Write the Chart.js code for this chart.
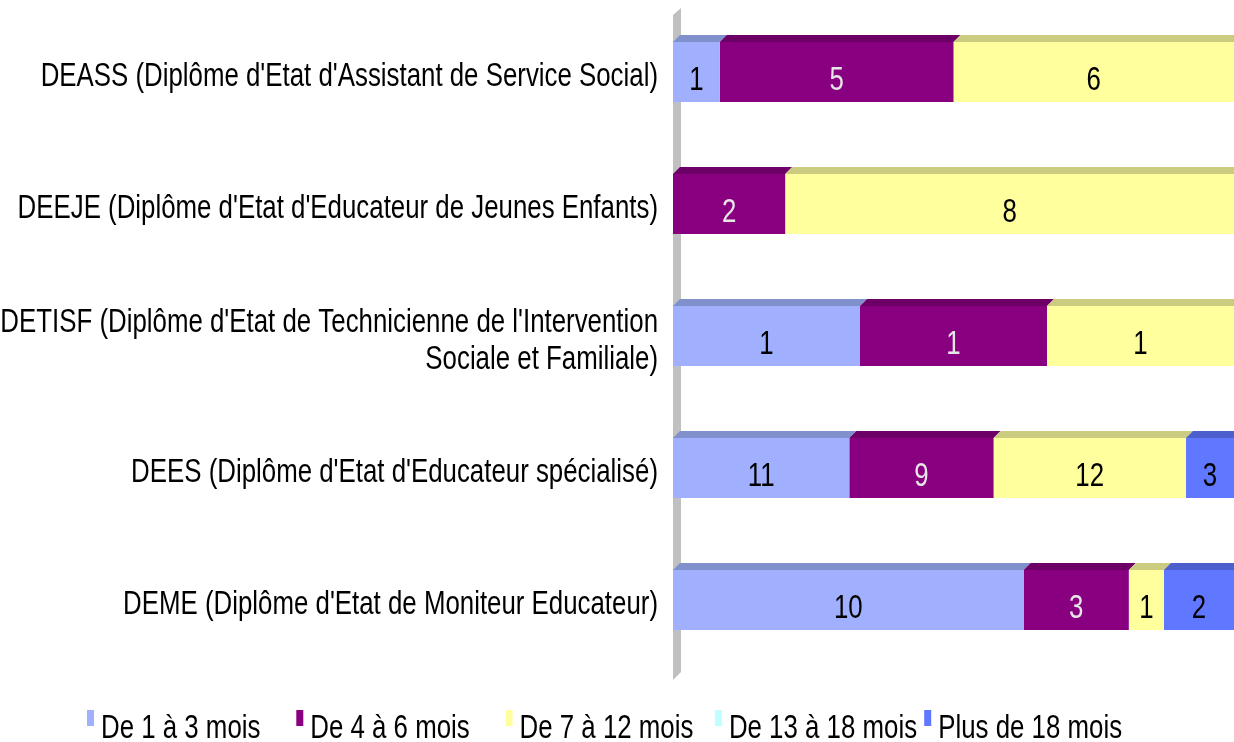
<!DOCTYPE html>
<html lang="fr">
<head>
<meta charset="utf-8">
<title>Délai d'obtention d'un emploi par diplôme</title>
<script src="https://cdn.jsdelivr.net/npm/chart.js@4/dist/chart.umd.min.js"></script>
<style>
  html, body { margin: 0; padding: 0; background: #fff; }
  #wrap { width: 1234px; height: 742px; }
</style>
</head>
<body>
<div id="wrap"><canvas id="chart" width="1234" height="742"></canvas></div>
<script>
// Diplômes (one line per entry, arrays wrap onto two lines)
const categories = [
  "DEASS (Diplôme d'Etat d'Assistant de Service Social)",
  "DEEJE (Diplôme d'Etat d'Educateur de Jeunes Enfants)",
  ["DETISF (Diplôme d'Etat de Technicienne de l'Intervention", "Sociale et Familiale)"],
  "DEES (Diplôme d'Etat d'Educateur spécialisé)",
  "DEME (Diplôme d'Etat de Moniteur Educateur)"
];

const seriesNames = ["De 1 à 3 mois", "De 4 à 6 mois", "De 7 à 12 mois", "De 13 à 18 mois", "Plus de 18 mois"];

// number of graduates per delay
const de1a3 = [1, 0, 1, 11, 10];
const de4a6 = [5, 2, 1, 9, 3];
const de7a12 = [6, 8, 1, 12, 1];
const de13a18 = [0, 0, 0, 0, 0];
const plus18 = [0, 0, 0, 3, 2];

const counts = [de1a3, de4a6, de7a12, de13a18, plus18];

const fronts = ["#A0B0FF", "#880080", "#FFFF9E", "#C0FFFF", "#6077FF"];
const tops = ["#8090CC", "#6C0066", "#CCCC80", "#9ACCCC", "#4D5FCC"];
const textColors = ["#000", "#E6E6E6", "#000", "#000", "#000"];

const totals = categories.map((_, i) => counts.reduce((s, arr) => s + arr[i], 0));

const FONT = "Liberation Sans, Arial, sans-serif";
const SQUEEZE = 0.76; // narrow look of the labels
const DEPTH = 7;

function narrowText(ctx, text, x, y, size, align, color) {
  ctx.save();
  ctx.font = size + "px " + FONT;
  ctx.fillStyle = color;
  ctx.textAlign = align;
  ctx.textBaseline = "alphabetic";
  ctx.translate(x, y);
  ctx.scale(SQUEEZE, 1);
  ctx.fillText(text, 0, 0);
  ctx.restore();
}

const relief = {
  id: "relief",
  beforeDatasetsDraw(chart) {
    const { ctx, chartArea } = chart;
    const x0 = chartArea.left;
    ctx.save();
    ctx.fillStyle = "#C0C0C0";
    ctx.beginPath();
    ctx.moveTo(x0, chartArea.top + 9);
    ctx.lineTo(x0 + 8, chartArea.top + 2);
    ctx.lineTo(x0 + 8, chartArea.bottom + 6);
    ctx.lineTo(x0, chartArea.bottom + 14);
    ctx.closePath();
    ctx.fill();
    ctx.restore();
  },
  afterDatasetsDraw(chart) {
    const { ctx } = chart;
    chart.data.datasets.forEach((ds, d) => {
      const meta = chart.getDatasetMeta(d);
      meta.data.forEach((bar, i) => {
        if (!counts[d][i]) return;
        const { x, y, base, height } = bar.getProps(["x", "y", "base", "height"], true);
        const top = y - height / 2;
        ctx.save();
        ctx.fillStyle = tops[d];
        ctx.beginPath();
        ctx.moveTo(base, top);
        ctx.lineTo(x, top);
        ctx.lineTo(x + DEPTH, top - DEPTH);
        ctx.lineTo(base + DEPTH, top - DEPTH);
        ctx.closePath();
        ctx.fill();
        ctx.restore();
        narrowText(ctx, String(counts[d][i]), (x + base) / 2, y + 18, 34, "center", textColors[d]);
      });
    });
  },
  afterDraw(chart) {
    const { ctx } = chart;
    const yScale = chart.scales.y;
    categories.forEach((label, i) => {
      const lines = Array.isArray(label) ? label : [label];
      const cy = yScale.getPixelForValue(i);
      lines.forEach((line, k) => {
        const by = cy + 14 + (k - (lines.length - 1) / 2) * 37;
        narrowText(ctx, line, 658, by, 34, "right", "#000");
      });
    });
    // legend row
    seriesNames.forEach((name, d) => {
      const mx = 87 + d * 209.3;
      ctx.fillStyle = fronts[d];
      ctx.fillRect(mx, 710, 7, 16);
      narrowText(ctx, name, mx + 14, 738, 34, "left", "#000");
    });
  }
};

new Chart(document.getElementById("chart"), {
  type: "bar",
  data: {
    labels: categories,
    datasets: counts.map((arr, d) => ({
      label: seriesNames[d],
      data: arr.map((v, i) => v / totals[i] * 100),
      backgroundColor: fronts[d],
      borderWidth: 0,
      barPercentage: 1,
      categoryPercentage: 60 / 132
    }))
  },
  options: {
    indexAxis: "y",
    responsive: false,
    animation: false,
    devicePixelRatio: 1,
    layout: { padding: { left: 673, right: 0, top: 6, bottom: 76 } },
    scales: {
      x: { stacked: true, min: 0, max: 100, display: false },
      y: { stacked: true, display: false }
    },
    plugins: {
      legend: { display: false },
      tooltip: { enabled: false }
    }
  },
  plugins: [relief]
});
</script>
</body>
</html>
